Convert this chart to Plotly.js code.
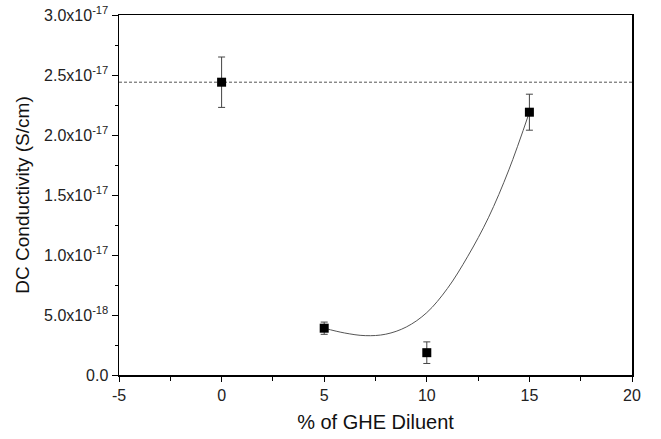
<!DOCTYPE html>
<html>
<head>
<meta charset="utf-8">
<script src="https://cdn.plot.ly/plotly-3.0.1.min.js"></script>
<style>
  html, body { margin: 0; padding: 0; background: #fff; }
  #chart { width: 661px; height: 439px; }
</style>
</head>
<body>
<div id="chart"></div>
<script>
// Measured data points
const diluentPct = [0, 5, 10, 15];
const conductivity = [2.44e-17, 3.9e-18, 1.86e-18, 2.19e-17];
const conductivityErr = [2.1e-18, 5.1e-19, 9.0e-19, 1.5e-18];

// Reference (0 % diluent) level, dashed line across the plot
const refLineX = [-5, 20];
const refLineY = [2.44e-17, 2.44e-17];

// Fitted curve
const curveX = [5, 6, 7, 8, 9, 10, 11, 12, 13, 14, 15];
const curveY = [3.9e-18, 3.5e-18, 3.28e-18, 3.4e-18, 4.0e-18, 5.2e-18, 7.2e-18,
                9.9e-18, 1.31e-17, 1.71e-17, 2.19e-17];

// Axis ticks
const yTickVals = [0, 5e-18, 1e-17, 1.5e-17, 2e-17, 2.5e-17, 3e-17];
const yTickText = ['0.0', '5.0x10<sup>-18</sup>', '1.0x10<sup>-17</sup>', '1.5x10<sup>-17</sup>',
                   '2.0x10<sup>-17</sup>', '2.5x10<sup>-17</sup>', '3.0x10<sup>-17</sup>'];
const xTickVals = [-5, 0, 5, 10, 15, 20];
const xTickText = ['-5', '0', '5', '10', '15', '20'];

const font = 'Liberation Sans, Arial, sans-serif';

const traces = [
  {
    x: refLineX, y: refLineY, type: 'scatter', mode: 'lines',
    line: { color: '#555', width: 1, dash: '3px,2px' },
    hoverinfo: 'skip', showlegend: false
  },
  {
    x: curveX, y: curveY, type: 'scatter', mode: 'lines',
    line: { color: '#555', width: 1, shape: 'spline', smoothing: 1 },
    showlegend: false
  },
  {
    x: diluentPct, y: conductivity, type: 'scatter', mode: 'markers',
    marker: { symbol: 'square', size: 9, color: '#000' },
    error_y: { type: 'data', array: conductivityErr, visible: true, color: '#444', thickness: 1, width: 3.5 },
    showlegend: false, cliponaxis: false
  }
];

const layout = {
  width: 661, height: 439,
  margin: { l: 119, r: 29, t: 15, b: 64 },
  paper_bgcolor: '#fff', plot_bgcolor: '#fff',
  font: { family: font, color: '#222', size: 16 },
  xaxis: {
    range: [-5, 20],
    tickvals: xTickVals, ticktext: xTickText,
    ticks: 'outside', ticklen: 5, tickwidth: 1, tickcolor: '#000',
    minor: { dtick: 2.5, ticks: 'outside', ticklen: 4, tickcolor: '#000', showgrid: false },
    showline: true, linecolor: '#000', linewidth: 1.5, mirror: true,
    showgrid: false, zeroline: false,
    tickfont: { family: font, size: 16, color: '#222' },
    title: { text: '% of GHE Diluent', font: { family: font, size: 20, color: '#111' }, standoff: 12 }
  },
  yaxis: {
    range: [0, 3e-17],
    tickvals: yTickVals, ticktext: yTickText,
    ticks: 'outside', ticklen: 6, tickwidth: 1, tickcolor: '#000',
    minor: { dtick: 2.5e-18, ticks: 'outside', ticklen: 3, tickcolor: '#000', showgrid: false },
    showline: true, linecolor: '#000', linewidth: 1.5, mirror: true,
    showgrid: false, zeroline: false,
    tickfont: { family: font, size: 16, color: '#222' },
    title: { text: 'DC Conductivity (S/cm)', font: { family: font, size: 19, color: '#111' }, standoff: 9 }
  }
};

Plotly.newPlot('chart', traces, layout, { staticPlot: true, displayModeBar: false });
</script>
</body>
</html>
